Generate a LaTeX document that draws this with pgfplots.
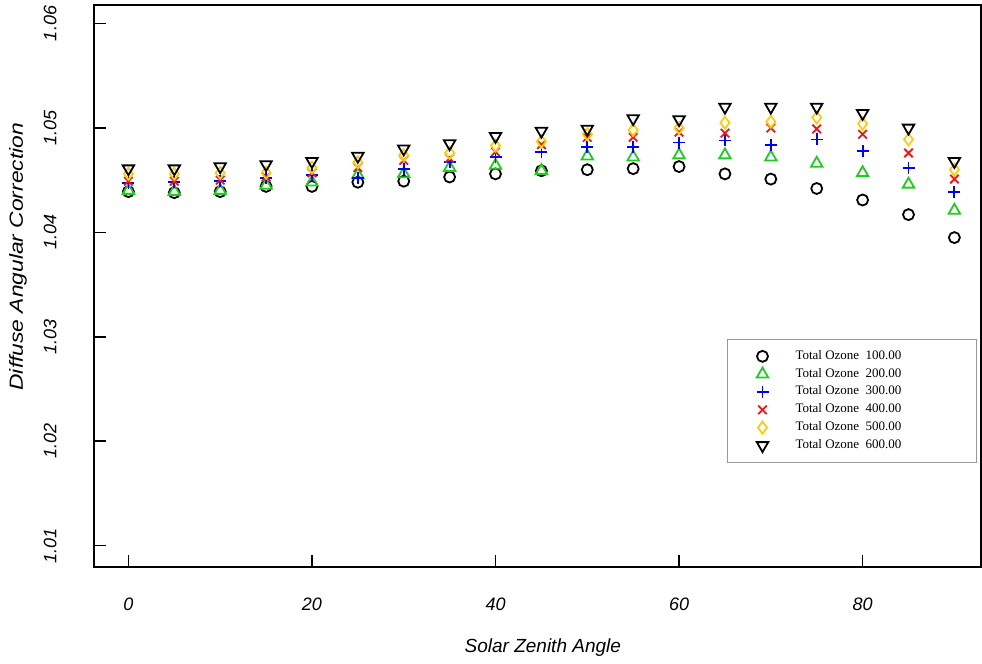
\documentclass[border=0pt]{standalone}
\usepackage{fontspec}
\setmainfont{Liberation Sans}
\newfontfamily\legfont{Liberation Serif}
\usepackage{pgfplots}
\pgfplotsset{compat=1.18}
\usepackage{pgfplotstable}
\usetikzlibrary{calc}
\definecolor{cgreen}{RGB}{30,205,30}
\definecolor{cblue}{RGB}{0,0,255}
\definecolor{cred}{RGB}{240,20,20}
\definecolor{cyellow}{RGB}{255,205,0}
\pgfplotstableread{
x o100 o200 o300 o400 o500 o600
0  1.0439 1.0440 1.0447 1.0449 1.0456 1.0461
5  1.0438 1.0439 1.0448 1.0449 1.0456 1.0461
10 1.0439 1.0440 1.0449 1.0450 1.0457 1.0463
15 1.0444 1.0445 1.0452 1.0453 1.0457 1.0465
20 1.0444 1.0448 1.0455 1.0457 1.0462 1.0468
25 1.0448 1.0455 1.0452 1.0462 1.0467 1.0473
30 1.0449 1.0456 1.0461 1.0469 1.0474 1.0480
35 1.0453 1.0462 1.0467 1.0471 1.0476 1.0485
40 1.0456 1.0464 1.0472 1.0477 1.0483 1.0492
45 1.0459 1.0459 1.0477 1.0484 1.0487 1.0497
50 1.0460 1.0473 1.0482 1.0491 1.0494 1.0499
55 1.0461 1.0472 1.0482 1.0491 1.0498 1.0509
60 1.0463 1.0474 1.0486 1.0496 1.0500 1.0508
65 1.0456 1.0474 1.0488 1.0495 1.0505 1.0520
70 1.0451 1.0472 1.0484 1.0500 1.0506 1.0520
75 1.0442 1.0466 1.0489 1.0499 1.0510 1.0520
80 1.0431 1.0457 1.0478 1.0494 1.0504 1.0514
85 1.0417 1.0446 1.0462 1.0476 1.0489 1.0500
90 1.0395 1.0421 1.0439 1.0451 1.0460 1.0468
}\datatable
\newcommand{\lt}[1]{\makebox[75pt][l]{Total Ozone~~#1}}
\begin{document}
\begin{tikzpicture}
\begin{axis}[
  scale only axis,
  width=443.5pt, height=281pt,
  xmin=-3.75, xmax=92.9,
  ymin=1.00796, ymax=1.06177,
  xtick={0,20,40,60,80},
  ytick={1.01,1.02,1.03,1.04,1.05,1.06},
  xtick pos=left, ytick pos=left,
  tick align=inside,
  major tick length=6pt,
  axis line style={line width=1pt},
  every tick/.style={black, line width=0.8pt},
  /pgf/number format/assume math mode=true,
  yticklabel style={/pgf/number format/fixed, /pgf/number format/precision=2, /pgf/number format/fixed zerofill,
    rotate=90, anchor=south, inner xsep=0pt, inner ysep=18.5pt, font=\itshape\fontsize{9}{10}\selectfont},
  xticklabel style={yshift=-12pt, font=\itshape\fontsize{9}{10}\selectfont},
  scaled y ticks=false,
  xlabel={Solar Zenith Angle},
  ylabel={Diffuse Angular Correction},
  every axis x label/.style={at={(axis description cs:0.506,0)}, yshift=-40.5pt, anchor=center, font=\itshape\fontsize{9.5}{11}\selectfont},
  every axis y label/.style={at={(axis description cs:0,0.552)}, xshift=-38pt, rotate=90, anchor=center, xscale=1.2, font=\itshape\fontsize{9.5}{11}\selectfont},
  legend style={at={(0.9955,0.406)}, anchor=north east, draw=gray!80, line width=0.5pt,
    font=\legfont\fontsize{6.5}{8}\selectfont, inner xsep=14.5pt, inner ysep=4.5pt, row sep=0.9pt,
    nodes={inner sep=1pt},
    /tikz/every odd column/.append style={column sep=12.5pt}},
  legend cell align=left,
]
\addplot[only marks, mark=o, mark size=2.75pt, black, line width=0.9pt] table[x=x,y=o100]{\datatable};
\addlegendentry{\lt{100.00}}
\addplot[only marks, mark=triangle, mark size=3.3pt, cgreen, line width=0.9pt] table[x=x,y=o200]{\datatable};
\addlegendentry{\lt{200.00}}
\addplot[only marks, mark=+, mark size=3pt, cblue, line width=0.9pt] table[x=x,y=o300]{\datatable};
\addlegendentry{\lt{300.00}}
\addplot[only marks, mark=x, mark size=3pt, cred, line width=0.9pt] table[x=x,y=o400]{\datatable};
\addlegendentry{\lt{400.00}}
\addplot[only marks, mark=diamond, mark size=3pt, cyellow, line width=0.9pt] table[x=x,y=o500]{\datatable};
\addlegendentry{\lt{500.00}}
\addplot[only marks, mark=triangle, mark size=3.3pt, mark options={rotate=180}, black, line width=0.9pt] table[x=x,y=o600]{\datatable};
\addlegendentry{\lt{600.00}}
\end{axis}
\pgfresetboundingbox
\path ($(current axis.south west)+(-47pt,-48.5pt)$) rectangle ($(current axis.north east)+(0.5pt,2.5pt)$);
\end{tikzpicture}
\end{document}
